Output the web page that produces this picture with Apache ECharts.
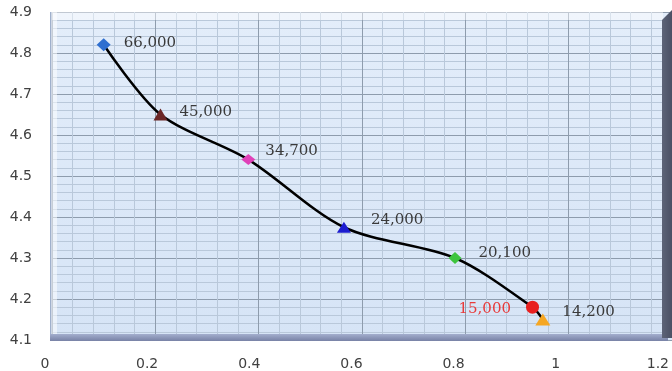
<!DOCTYPE html>
<html>
<head>
<meta charset="utf-8">
<script src="https://cdn.jsdelivr.net/npm/echarts@6/dist/echarts.min.js"></script>
<style>
  html, body { margin: 0; padding: 0; background: #ffffff; }
  #chart { width: 672px; height: 371px; }
</style>
</head>
<body>
<div id="chart"></div>
<script>
// Measured points along the curve
const xValues = [0.10, 0.21, 0.38, 0.565, 0.78, 0.93, 0.95];
const yValues = [4.82, 4.65, 4.54, 4.375, 4.30, 4.18, 4.15];
const pointLabels = ['66,000', '45,000', '34,700', '24,000', '20,100', '15,000', '14,200'];

// Axis ranges
const xRange = { min: 0, max: 1.2, step: 0.2 };
const yRange = { min: 4.1, max: 4.9, step: 0.1 };

// Marker look and label placement for each point
const markerStyles = [
  { symbol: 'diamond',  size: [14, 13], color: '#2f6fd0', pos: 'right', dist: 13, off: [0, -2], text: '#3a3a3a' },
  { symbol: 'triangle', size: [14, 12], color: '#6b2626', pos: 'right', dist: 12, off: [0, -2], text: '#3a3a3a' },
  { symbol: 'diamond',  size: [14, 11], color: '#e040b8', pos: 'right', dist: 10, off: [0, -8], text: '#3a3a3a' },
  { symbol: 'triangle', size: [14, 11], color: '#1c1ccf', pos: 'right', dist: 20, off: [0, -7], text: '#3a3a3a' },
  { symbol: 'diamond',  size: [13, 12], color: '#3dc43d', pos: 'right', dist: 17, off: [0, -5], text: '#3a3a3a' },
  { symbol: 'circle',   size: 13,       color: '#e82020', pos: 'left',  dist: 15, off: [0, 2],  text: '#e83a3a' },
  { symbol: 'triangle', size: [15, 12], color: '#f5a623', pos: 'right', dist: 12, off: [0, -7], text: '#3a3a3a' }
];

const seriesData = xValues.map(function (x, i) {
  const s = markerStyles[i];
  return {
    value: [x, yValues[i]],
    symbol: s.symbol,
    symbolSize: s.size,
    itemStyle: { color: s.color, borderWidth: 0 },
    label: {
      show: true,
      position: s.pos,
      distance: s.dist,
      offset: s.off,
      formatter: pointLabels[i],
      color: s.text,
      fontFamily: 'DejaVu Serif',
      fontSize: 15
    }
  };
});

const chart = echarts.init(document.getElementById('chart'), null, { renderer: 'canvas' });

chart.setOption({
  animation: false,
  backgroundColor: '#ffffff',
  grid: [
    {
      left: 52, right: -4, top: 12, bottom: 31,
      show: true,
      borderWidth: 0,
      backgroundColor: new echarts.graphic.LinearGradient(0, 0, 0, 1, [
        { offset: 0, color: '#e3edfa' },
        { offset: 1, color: '#d6e4f6' }
      ])
    },
    // front plane carrying the x tick labels
    { left: 45, right: 12, top: 12, bottom: 31, show: false }
  ],
  xAxis: [
    {
      gridIndex: 0,
      type: 'value',
      min: xRange.min, max: xRange.max, interval: xRange.step,
      axisLine: { show: false },
      axisTick: { show: false },
      axisLabel: { show: false },
      splitLine: { show: true, lineStyle: { color: '#8e9cad', width: 1 } },
      minorTick: { show: false, splitNumber: 5 },
      minorSplitLine: { show: true, lineStyle: { color: '#b9c8da', width: 1 } }
    },
    {
      gridIndex: 1,
      type: 'value',
      min: xRange.min, max: xRange.max, interval: xRange.step,
      axisLine: { show: false },
      axisTick: { show: false },
      splitLine: { show: false },
      axisLabel: {
        show: true,
        margin: 17,
        color: '#404040',
        fontFamily: 'DejaVu Sans',
        fontSize: 14,
        showMinLabel: true,
        showMaxLabel: true
      }
    }
  ],
  yAxis: [
    {
      gridIndex: 0,
      type: 'value',
      min: yRange.min, max: yRange.max, interval: yRange.step,
      axisLine: { show: false },
      axisTick: { show: false },
      axisLabel: {
        margin: 20,
        color: '#404040',
        fontFamily: 'DejaVu Sans',
        fontSize: 14,
        formatter: function (v) { return v.toFixed(1); }
      },
      splitLine: { show: true, lineStyle: { color: '#8e9cad', width: 1 } },
      minorTick: { show: false, splitNumber: 5 },
      minorSplitLine: { show: true, lineStyle: { color: '#b9c8da', width: 1 } }
    },
    {
      gridIndex: 1,
      type: 'value',
      min: 0, max: 1,
      show: false
    }
  ],
  graphic: [
    // light top edge of the back wall
    { type: 'rect', z: 1, shape: { x: 51, y: 12, width: 612, height: 8 },
      style: { fill: 'rgba(255,255,255,0.45)' } },
    // light left wall edge
    { type: 'rect', z: 1, shape: { x: 51, y: 12, width: 6, height: 324 },
      style: { fill: 'rgba(255,255,255,0.5)' } },
    { type: 'rect', z: 1, shape: { x: 50, y: 12, width: 1.5, height: 324 },
      style: { fill: '#9fb0cc' } },
    // floor strip
    { type: 'rect', z: 1, shape: { x: 50, y: 334, width: 618, height: 7 },
      style: {
        fill: new echarts.graphic.LinearGradient(0, 0, 0, 1, [
          { offset: 0, color: '#a3aecd' },
          { offset: 1, color: '#7882a6' }
        ])
      } },
    // dark right side wall
    { type: 'polygon', z: 1,
      shape: { points: [[662, 20], [672, 10], [672, 338], [662, 338]] },
      style: {
        fill: new echarts.graphic.LinearGradient(0, 0, 1, 0, [
          { offset: 0, color: '#5d6478' },
          { offset: 1, color: '#4a5064' }
        ])
      } }
  ],
  series: [
    {
      type: 'line',
      xAxisIndex: 0,
      yAxisIndex: 0,
      smooth: 0.3,
      z: 3,
      lineStyle: { color: '#000000', width: 2.5 },
      showSymbol: true,
      data: seriesData
    }
  ]
});
</script>
</body>
</html>
